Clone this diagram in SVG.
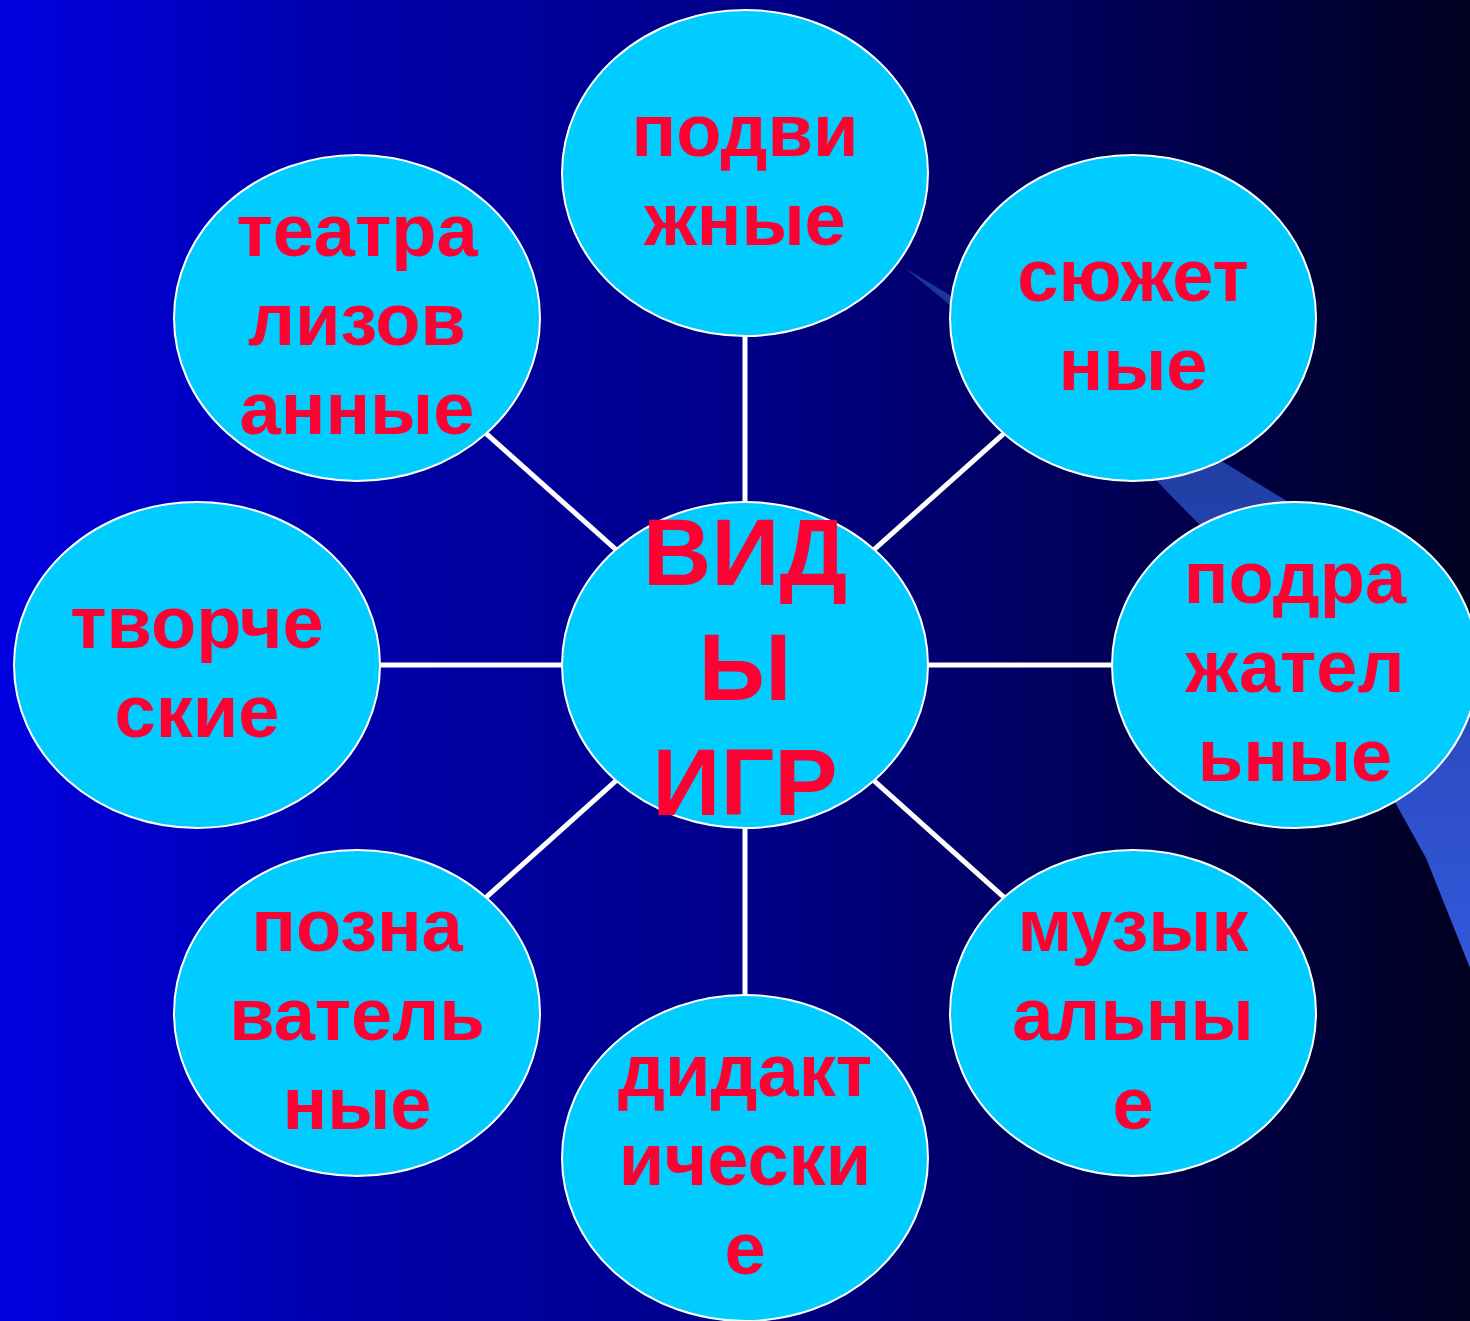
<svg xmlns="http://www.w3.org/2000/svg" width="1470" height="1321" viewBox="0 0 1470 1321">
<defs>
<linearGradient id="bg" x1="0" y1="0" x2="1" y2="0">
<stop offset="0" stop-color="#0000E0"/>
<stop offset="0.25" stop-color="#0000A8"/>
<stop offset="0.5" stop-color="#00008A"/>
<stop offset="0.75" stop-color="#000058"/>
<stop offset="1" stop-color="#000020"/>
</linearGradient>
<linearGradient id="sw" x1="0" y1="0" x2="0" y2="1">
<stop offset="0" stop-color="#1A3590"/>
<stop offset="0.5" stop-color="#2846B4"/>
<stop offset="1" stop-color="#3358DD"/>
</linearGradient>
<style>
.c{fill:#00CCFF;stroke:#FFFFFF;stroke-width:2}
.t{font-family:"Liberation Sans",Arial,sans-serif;font-weight:bold;font-size:74px;fill:#FF0033;text-anchor:middle}
.tc{font-family:"Liberation Sans",Arial,sans-serif;font-weight:bold;font-size:95px;fill:#FF0033;text-anchor:middle}
.l{stroke:#FFFFFF;stroke-width:5;fill:none}
</style>
</defs>
<rect x="0" y="0" width="1470" height="1321" fill="url(#bg)"/>
<path d="M905,268 Q1090,380 1290,503 Q1400,570 1470,640 L1470,968 L1426,858 L1396,804 Q1300,640 1198,523 Q1170,495 1158,482 Q1030,370 905,268 Z" fill="url(#sw)"/>
<g id="connectors">
<line class="l" x1="745" y1="665" x2="745" y2="173"/>
<line class="l" x1="745" y1="665" x2="745" y2="1158"/>
<line class="l" x1="745" y1="665" x2="197" y2="665"/>
<line class="l" x1="745" y1="665" x2="1295" y2="665"/>
<line class="l" x1="745" y1="665" x2="357" y2="318"/>
<line class="l" x1="745" y1="665" x2="1133" y2="318"/>
<line class="l" x1="745" y1="665" x2="357" y2="1013"/>
<line class="l" x1="745" y1="665" x2="1133" y2="1013"/>
</g>
<g id="n-top">
<ellipse class="c" cx="745" cy="173" rx="183" ry="163"/>
<text class="t" x="745" y="156">подви</text>
<text class="t" x="745" y="245">жные</text>
</g>
<g id="n-topleft">
<ellipse class="c" cx="357" cy="318" rx="183" ry="163"/>
<text class="t" x="357" y="256">театра</text>
<text class="t" x="357" y="345">лизов</text>
<text class="t" x="357" y="434">анные</text>
</g>
<g id="n-topright">
<ellipse class="c" cx="1133" cy="318" rx="183" ry="163"/>
<text class="t" x="1133" y="301">сюжет</text>
<text class="t" x="1133" y="390">ные</text>
</g>
<g id="n-left">
<ellipse class="c" cx="197" cy="665" rx="183" ry="163"/>
<text class="t" x="197" y="648">творче</text>
<text class="t" x="197" y="737">ские</text>
</g>
<g id="n-right">
<ellipse class="c" cx="1295" cy="665" rx="183" ry="163"/>
<text class="t" x="1295" y="603">подра</text>
<text class="t" x="1295" y="692">жател</text>
<text class="t" x="1295" y="781">ьные</text>
</g>
<g id="n-bottomleft">
<ellipse class="c" cx="357" cy="1013" rx="183" ry="163"/>
<text class="t" x="357" y="951">позна</text>
<text class="t" x="357" y="1040">ватель</text>
<text class="t" x="357" y="1129">ные</text>
</g>
<g id="n-bottomright">
<ellipse class="c" cx="1133" cy="1013" rx="183" ry="163"/>
<text class="t" x="1133" y="951">музык</text>
<text class="t" x="1133" y="1040">альны</text>
<text class="t" x="1133" y="1129">е</text>
</g>
<g id="n-bottom">
<ellipse class="c" cx="745" cy="1158" rx="183" ry="163"/>
<text class="t" x="745" y="1096">дидакт</text>
<text class="t" x="745" y="1185">ически</text>
<text class="t" x="745" y="1274">е</text>
</g>
<g id="n-center">
<ellipse class="c" cx="745" cy="665" rx="183" ry="163"/>
<text class="tc" x="745" y="585">ВИД</text>
<text class="tc" x="745" y="700">Ы</text>
<text class="tc" x="745" y="815">ИГР</text>
</g>
</svg>
